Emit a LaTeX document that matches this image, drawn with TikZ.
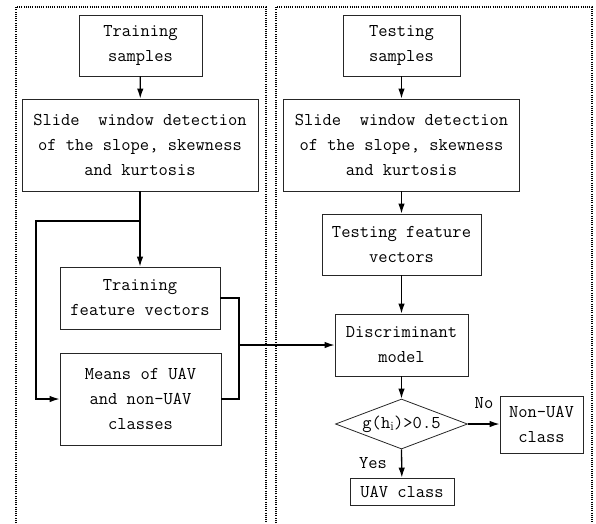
\documentclass[tikz,border=0pt]{standalone}
\usepackage{fontspec}
\usetikzlibrary{calc, positioning, arrows.meta, shapes.geometric}
\tikzset{
    stepbox/.style={rectangle, draw=black!85, line width=0.8pt, align=center, inner sep=0pt, font=\ttfamily\fontsize{18}{25}\selectfont},
    decisionbox/.style={diamond, draw=black!85, line width=0.8pt, inner sep=0pt, font=\ttfamily\fontsize{18}{25}\selectfont},
    flowarrow/.style={-{Latex[length=10pt,width=6.5pt]}, line width=1.3pt},
    flowline/.style={line width=1.3pt},
    framebox/.style={dash pattern=on 1pt off 1.2pt, line width=1.1pt},
    note/.style={font=\ttfamily\fontsize{18}{20}\selectfont}
}
\begin{document}
\begin{tikzpicture}[x=1pt, y=-1pt]
    \useasboundingbox (0,0) rectangle (596,523);
    % dotted frames
    \draw[framebox] (16,523) -- (16,7) -- (266,7) -- (266,523);
    \draw[framebox] (276,523) -- (276,7) -- (592,7) -- (592,523);

    % training side
    \node[stepbox, minimum width=123pt, minimum height=61pt] (trainsmp) at (140.5,45.5) {Training\\samples};
    \node[stepbox, minimum width=236pt, minimum height=92pt] (slideL) at (140,145) {Slide~ window detection\\of the slope, skewness\\and kurtosis};
    \node[stepbox, minimum width=160pt, minimum height=62pt] (trainfv) at (140,298) {Training\\feature vectors};
    \node[stepbox, minimum width=161pt, minimum height=92pt] (means) at (140.5,399) {Means of UAV\\and non-UAV\\classes};

    % testing side
    \node[stepbox, minimum width=117pt, minimum height=61pt] (testsmp) at (401.5,45.5) {Testing\\samples};
    \node[stepbox, minimum width=236pt, minimum height=92pt] (slideR) at (401.5,145) {Slide~ window detection\\of the slope, skewness\\and kurtosis};
    \node[stepbox, minimum width=159pt, minimum height=61pt] (testfv) at (401.5,244.5) {Testing feature\\vectors};
    \node[stepbox, minimum width=133pt, minimum height=62pt] (discr) at (401.5,345) {Discriminant\\model};
    \node[decisionbox, minimum width=132pt, minimum height=50pt, aspect=2.64] (decide) at (401.5,424) {g(h$_{\mathrm{i}}$)>0.5};
    \node[stepbox, minimum width=83pt, minimum height=57pt] (nonuav) at (541.5,424.5) {Non-UAV\\class};
    \node[stepbox, minimum width=104pt, minimum height=27pt] (uav) at (402,491.5) {UAV class};

    \coordinate (split) at (140,221);
    \coordinate (joint) at (239,345);

    \draw[flowarrow] (trainsmp) -- (slideL);
    \draw[flowline] (slideL.south) -- (split);
    \draw[flowarrow] (split) -- (trainfv);
    \draw[flowarrow] (split) -- (36,221) |- (means.west);
    \draw[flowline] (trainfv.east) -| (joint);
    \draw[flowline] (means.east) -| (joint);
    \draw[flowarrow] (joint) -- (discr.west);

    \draw[flowarrow] (testsmp) -- (slideR);
    \draw[flowarrow] (slideR) -- (testfv);
    \draw[flowarrow] (testfv) -- (discr);
    \draw[flowarrow] (discr) -- (decide);
    \draw[flowarrow] (decide.east) -- (nonuav.west |- decide.east);
    \draw[flowarrow] (decide.south) -- (uav);

    \node[note] (nolbl) at (484,403) {No};
    \node[note] (yeslbl) at (373,463) {Yes};
\end{tikzpicture}
\end{document}
